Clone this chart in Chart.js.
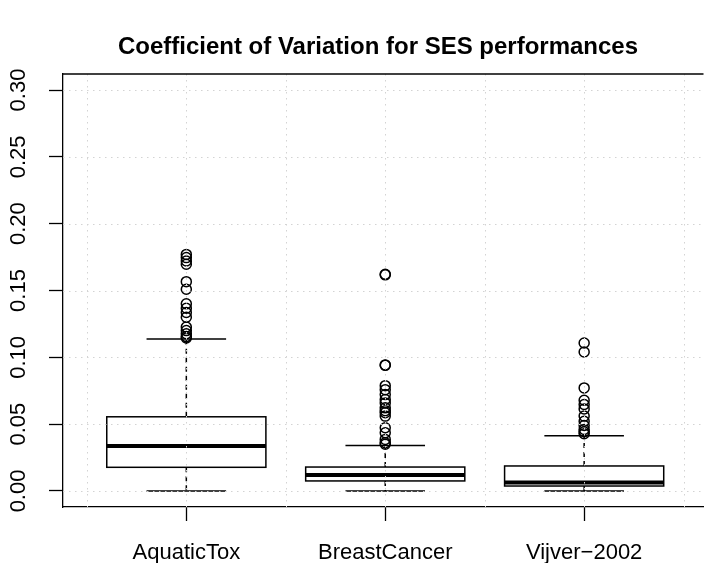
<!DOCTYPE html>
<html>
<head>
<meta charset="utf-8">
<script src="https://cdn.jsdelivr.net/npm/chart.js@4.4.1/dist/chart.umd.min.js"></script>
<style>
html, body { margin: 0; padding: 0; background: #fff; overflow: hidden; }
canvas { display: block; }
</style>
</head>
<body>
<canvas id="cv" width="710" height="563"></canvas>
<script>
// boxplot stats
const categories = ['AquaticTox', 'BreastCancer', 'Vijver\u22122002'];
const lowerWhisker = [0.0, 0.0, 0.0];
const q1 = [0.0177, 0.0075, 0.0037];
const median = [0.0336, 0.0119, 0.0063];
const q3 = [0.0555, 0.0179, 0.0187];
const upperWhisker = [0.1137, 0.0341, 0.0413];

const outAquaticTox = [0.1770, 0.1746, 0.1721, 0.1696, 0.1566, 0.1509, 0.1400, 0.1367,
    0.1335, 0.1300, 0.1226, 0.1200, 0.1176, 0.1155, 0.1145];
const outBreastCancer = [0.1621, 0.1617, 0.0943, 0.0940, 0.0788, 0.0758, 0.0721, 0.0684,
    0.0659, 0.0622, 0.0600, 0.0585, 0.0560, 0.0473, 0.0435, 0.0386, 0.0361, 0.0350];
const outVijver = [0.1107, 0.1040, 0.0771, 0.0679, 0.0647, 0.0614, 0.0560, 0.0522,
    0.0490, 0.0460, 0.0443, 0.0428];

const yTicks = [0, 0.05, 0.10, 0.15, 0.20, 0.25, 0.30];
const xGrid = [0.5, 1, 1.5, 2, 2.5, 3, 3.5];

const FONT = "'Liberation Sans', Arial, sans-serif";
const GRID = '#d3d3d3';

const outliers = [outAquaticTox, outBreastCancer, outVijver];
const outlierPoints = [];
outliers.forEach((arr, i) => {
    arr.forEach(v => outlierPoints.push({ x: i + 1, y: v }));
});

function line(ctx, x1, y1, x2, y2) {
    ctx.beginPath();
    ctx.moveTo(x1, y1);
    ctx.lineTo(x2, y2);
    ctx.stroke();
}

// draws the boxes, whiskers and medians from the arrays above
const boxPlugin = {
    id: 'boxes',
    beforeDatasetsDraw(chart) {
        const ctx = chart.ctx;
        const xs = chart.scales.x;
        const ys = chart.scales.y;
        ctx.save();
        ctx.strokeStyle = '#000';
        categories.forEach((c, i) => {
            const pos = i + 1;
            const xc = xs.getPixelForValue(pos);
            const xl = xs.getPixelForValue(pos - 0.4);
            const xr = xs.getPixelForValue(pos + 0.4);
            const sl = xs.getPixelForValue(pos - 0.2);
            const sr = xs.getPixelForValue(pos + 0.2);
            const yq1 = ys.getPixelForValue(q1[i]);
            const yq3 = ys.getPixelForValue(q3[i]);
            const ylo = ys.getPixelForValue(lowerWhisker[i]);
            const yhi = ys.getPixelForValue(upperWhisker[i]);
            const ymed = ys.getPixelForValue(median[i]);

            ctx.lineWidth = 1.5;
            ctx.setLineDash([5, 4]);
            line(ctx, xc, yq3, xc, yhi);
            line(ctx, xc, yq1, xc, ylo);
            ctx.setLineDash([]);
            line(ctx, sl, yhi, sr, yhi);
            line(ctx, sl, ylo, sr, ylo);
            ctx.strokeRect(xl, yq3, xr - xl, yq1 - yq3);
            ctx.lineWidth = 4;
            line(ctx, xl, ymed, xr, ymed);
        });
        ctx.restore();
    },
    // dotted grid goes on top, like grid() called after boxplot()
    afterDatasetsDraw(chart) {
        const ctx = chart.ctx;
        const area = chart.chartArea;
        const xs = chart.scales.x;
        const ys = chart.scales.y;
        ctx.save();
        ctx.strokeStyle = GRID;
        ctx.lineWidth = 1;
        ctx.setLineDash([1.5, 4.5]);
        xGrid.forEach(v => {
            const px = Math.round(xs.getPixelForValue(v)) + 0.5;
            line(ctx, px, area.top, px, area.bottom);
        });
        yTicks.forEach(v => {
            const py = Math.round(ys.getPixelForValue(v)) + 0.5;
            line(ctx, area.left, py, area.right, py);
        });
        ctx.restore();
    },
    afterDraw(chart) {
        const ctx = chart.ctx;
        const area = chart.chartArea;
        const ys = chart.scales.y;
        ctx.save();
        // top edge of the plot box
        ctx.strokeStyle = '#000';
        ctx.lineWidth = 1.3;
        line(ctx, area.left, area.top, area.right, area.top);

        // rotated y tick labels
        ctx.fillStyle = '#000';
        ctx.font = '22px ' + FONT;
        ctx.textAlign = 'center';
        ctx.textBaseline = 'middle';
        yTicks.forEach(v => {
            const py = ys.getPixelForValue(v);
            ctx.save();
            ctx.translate(19, py);
            ctx.rotate(-Math.PI / 2);
            ctx.fillText(v.toFixed(2), 0, 0);
            ctx.restore();
        });

        // title
        ctx.font = 'bold 24px ' + FONT;
        ctx.fillText('Coefficient of Variation for SES performances', 378, 47);
        ctx.restore();
    }
};

new Chart(document.getElementById('cv'), {
    type: 'scatter',
    data: {
        datasets: [{
            data: outlierPoints,
            pointStyle: 'circle',
            pointRadius: 5,
            pointBorderWidth: 1.5,
            pointBorderColor: '#000',
            pointBackgroundColor: 'rgba(0,0,0,0)',
            pointHoverRadius: 5
        }]
    },
    options: {
        responsive: false,
        animation: false,
        events: [],
        layout: { padding: { top: 74, right: 0, bottom: 0, left: 0 } },
        plugins: {
            legend: { display: false },
            tooltip: { enabled: false }
        },
        scales: {
            x: {
                type: 'linear',
                min: 0.38,
                max: 3.6,
                afterBuildTicks: s => { s.ticks = categories.map((c, i) => ({ value: i + 1 })); },
                afterFit: s => { s.height = 56; },
                grid: {
                    drawOnChartArea: false,
                    tickLength: 14,
                    tickWidth: 1.3,
                    tickColor: '#000'
                },
                border: { display: true, color: '#000', width: 1.3 },
                ticks: {
                    autoSkip: false,
                    maxRotation: 0,
                    minRotation: 0,
                    padding: 19,
                    color: '#000',
                    font: { family: FONT, size: 22 },
                    callback: v => categories[v - 1]
                }
            },
            y: {
                type: 'linear',
                min: -0.012,
                max: 0.312,
                afterBuildTicks: s => { s.ticks = yTicks.map(v => ({ value: v })); },
                afterFit: s => { s.width = 63; },
                grid: {
                    drawOnChartArea: false,
                    tickLength: 14,
                    tickWidth: 1.3,
                    tickColor: '#000'
                },
                border: { display: true, color: '#000', width: 1.3 },
                ticks: { display: false }
            }
        }
    },
    plugins: [boxPlugin]
});
</script>
</body>
</html>
